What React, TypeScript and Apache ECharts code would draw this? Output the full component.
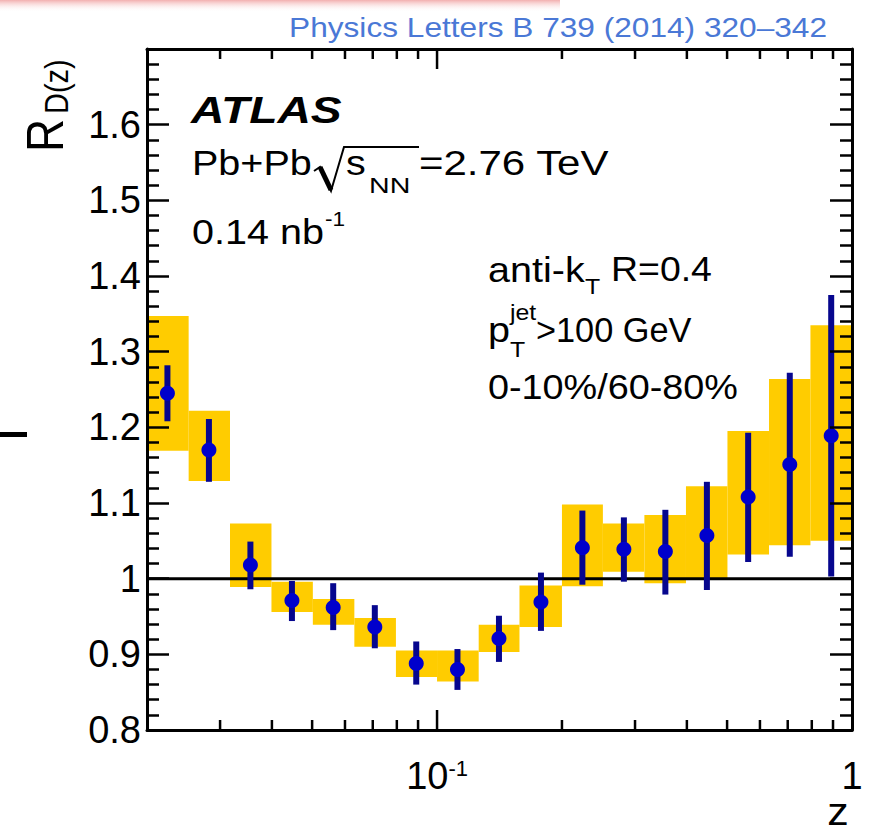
import React, { useEffect, useRef } from 'react';
import * as echarts from 'echarts';

// ---- data ----
const binLow = [0.02, 0.0252, 0.0317, 0.0399, 0.0502, 0.0632, 0.0796, 0.1, 0.126, 0.158, 0.2, 0.251, 0.316, 0.398, 0.501, 0.631, 0.794];
const binHigh = [0.0252, 0.0317, 0.0399, 0.0502, 0.0632, 0.0796, 0.1, 0.126, 0.158, 0.2, 0.251, 0.316, 0.398, 0.501, 0.631, 0.794, 1.0];
const zCenters = [0.0224, 0.0282, 0.0355, 0.0447, 0.0562, 0.0708, 0.0891, 0.112, 0.141, 0.178, 0.224, 0.282, 0.355, 0.447, 0.562, 0.708, 0.891];
const rValues = [1.245, 1.170, 1.018, 0.971, 0.962, 0.936, 0.888, 0.880, 0.921, 0.969, 1.041, 1.039, 1.036, 1.057, 1.108, 1.151, 1.189];
const statLow = [1.208, 1.128, 0.986, 0.944, 0.932, 0.908, 0.860, 0.853, 0.890, 0.931, 0.992, 0.996, 0.979, 0.985, 1.022, 1.029, 1.003];
const statHigh = [1.282, 1.211, 1.049, 0.997, 0.994, 0.965, 0.917, 0.907, 0.951, 1.008, 1.090, 1.081, 1.091, 1.128, 1.193, 1.272, 1.375];
const sysLow = [1.169, 1.129, 0.989, 0.956, 0.939, 0.910, 0.870, 0.864, 0.903, 0.936, 0.990, 1.009, 0.994, 1.000, 1.032, 1.044, 1.050];
const sysHigh = [1.347, 1.222, 1.073, 0.996, 0.973, 0.948, 0.905, 0.905, 0.939, 0.991, 1.098, 1.073, 1.084, 1.122, 1.195, 1.264, 1.335];

const xMajorTicks = [0.1];
const xMinorTicks = [0.03, 0.04, 0.05, 0.06, 0.07, 0.08, 0.09, 0.2, 0.3, 0.4, 0.5, 0.6, 0.7, 0.8, 0.9];
const referenceLine = [[0.02, 1], [1, 1]];

const X_MIN = 0.02;
const X_MAX = 1;
const Y_MIN = 0.8;
const Y_MAX = 1.7;
const Y_STEP = 0.1;

const FONT = "'Liberation Sans', Arial, Helvetica, sans-serif";
const SX = 1.13;

function txt(text: string, x: number, y: number, size: number, extra: any = {}) {
  const { style, ...rest } = extra;
  return {
    type: 'text',
    x,
    y,
    scaleX: SX,
    z: 100,
    ...rest,
    style: {
      text,
      fontSize: size,
      fontFamily: FONT,
      fill: '#000',
      align: 'left',
      verticalAlign: 'middle',
      ...(style || {}),
    },
  };
}

export default function App() {
  const ref = useRef<HTMLDivElement>(null);

  useEffect(() => {
    document.body.style.margin = '0';
    if (!ref.current) return;
    const chart = echarts.init(ref.current, undefined, { renderer: 'svg' });

    const lineStyle = { color: '#000', width: 3 };
    const tickStyle = { color: '#000', width: 2.5 };

    const boxData = binLow.map((lo, i) => [lo, binHigh[i], sysLow[i], sysHigh[i]]);
    const barData = zCenters.map((z, i) => [z, statLow[i], statHigh[i]]);
    const pointData = zCenters.map((z, i) => [z, rValues[i]]);
    const tickData = [
      ...xMajorTicks.map((v) => [v, Y_MIN, 1]),
      ...xMinorTicks.map((v) => [v, Y_MIN, 0]),
    ];

    const near = (a: number, b: number) => Math.abs(a - b) < 1e-6;

    const option: any = {
      animation: false,
      backgroundColor: '#fff',
      grid: { left: 147, right: 20, top: 49, bottom: 104, containLabel: false },
      xAxis: [
        {
          type: 'log',
          logBase: 10,
          min: X_MIN,
          max: X_MAX,
          position: 'bottom',
          z: 10,
          axisLine: { show: true, onZero: false, lineStyle },
          axisTick: { show: false },
          splitLine: { show: false },
          minorTick: { show: false },
          axisLabel: {
            show: true,
            margin: 27,
            showMinLabel: true,
            showMaxLabel: true,
            formatter: (v: number) => {
              if (near(v, 0.1)) return '{b|10}{s|-1}';
              if (near(v, 1)) return '{b|1}';
              return '';
            },
            rich: {
              b: { fontSize: 38, fontFamily: FONT, color: '#000' },
              s: { fontSize: 22, fontFamily: FONT, color: '#000', verticalAlign: 'top' },
            },
          },
        },
        {
          type: 'log',
          logBase: 10,
          min: X_MIN,
          max: X_MAX,
          position: 'top',
          z: 10,
          axisLine: { show: true, onZero: false, lineStyle },
          axisTick: { show: false },
          splitLine: { show: false },
          axisLabel: { show: false },
        },
      ],
      yAxis: [
        {
          type: 'value',
          min: Y_MIN,
          max: Y_MAX,
          interval: Y_STEP,
          position: 'left',
          z: 10,
          axisLine: { show: true, onZero: false, lineStyle },
          axisTick: { show: true, inside: true, length: 22, lineStyle: tickStyle },
          minorTick: { show: true, splitNumber: 5, length: 12, lineStyle: tickStyle },
          splitLine: { show: false },
          minorSplitLine: { show: false },
          axisLabel: {
            fontSize: 38,
            fontFamily: FONT,
            color: '#000',
            margin: 6,
            formatter: (v: number) => (near(v, Y_MAX) ? '' : String(parseFloat(v.toFixed(2)))),
          },
        },
        {
          type: 'value',
          min: Y_MIN,
          max: Y_MAX,
          interval: Y_STEP,
          position: 'right',
          z: 10,
          axisLine: { show: true, onZero: false, lineStyle },
          axisTick: { show: true, inside: true, length: 22, lineStyle: tickStyle },
          minorTick: { show: true, splitNumber: 5, length: 12, lineStyle: tickStyle },
          splitLine: { show: false },
          minorSplitLine: { show: false },
          axisLabel: { show: false },
        },
      ],
      series: [
        {
          type: 'custom',
          name: 'sys',
          xAxisIndex: 0,
          yAxisIndex: 0,
          z: 1,
          encode: { x: [0, 1], y: [2, 3] },
          data: boxData,
          renderItem: (params: any, api: any) => {
            const p1 = api.coord([api.value(0), api.value(3)]);
            const p2 = api.coord([api.value(1), api.value(2)]);
            return {
              type: 'rect',
              shape: { x: p1[0], y: p1[1], width: p2[0] - p1[0], height: p2[1] - p1[1] },
              style: { fill: '#FFCC00' },
            };
          },
        },
        {
          type: 'line',
          name: 'unity',
          xAxisIndex: 0,
          yAxisIndex: 0,
          z: 2,
          data: referenceLine,
          symbol: 'none',
          showSymbol: false,
          lineStyle: { color: '#000', width: 3 },
        },
        {
          type: 'custom',
          name: 'stat',
          xAxisIndex: 0,
          yAxisIndex: 0,
          z: 3,
          encode: { x: 0, y: [1, 2] },
          data: barData,
          renderItem: (params: any, api: any) => {
            const top = api.coord([api.value(0), api.value(2)]);
            const bot = api.coord([api.value(0), api.value(1)]);
            return {
              type: 'rect',
              shape: { x: top[0] - 3, y: top[1], width: 6, height: bot[1] - top[1] },
              style: { fill: '#06068E' },
            };
          },
        },
        {
          type: 'scatter',
          name: 'R',
          xAxisIndex: 0,
          yAxisIndex: 0,
          z: 4,
          data: pointData,
          symbol: 'circle',
          symbolSize: 15,
          itemStyle: { color: '#0000CC', opacity: 1 },
        },
        {
          type: 'custom',
          name: 'xticks',
          xAxisIndex: 0,
          yAxisIndex: 0,
          z: 10,
          encode: { x: 0, y: 1 },
          data: tickData,
          renderItem: (params: any, api: any) => {
            const v = api.value(0);
            const len = api.value(2) === 1 ? 20 : 10;
            const b = api.coord([v, Y_MIN]);
            const t = api.coord([v, Y_MAX]);
            return {
              type: 'group',
              children: [
                { type: 'line', shape: { x1: b[0], y1: b[1], x2: b[0], y2: b[1] - len }, style: { stroke: '#000', lineWidth: 2.5 } },
                { type: 'line', shape: { x1: t[0], y1: t[1], x2: t[0], y2: t[1] + len }, style: { stroke: '#000', lineWidth: 2.5 } },
              ],
            };
          },
        },
      ],
      graphic: [
        {
          type: 'rect',
          shape: { x: 0, y: 0, width: 560, height: 12 },
          style: {
            fill: {
              type: 'linear', x: 0, y: 0, x2: 0, y2: 1,
              colorStops: [
                { offset: 0, color: 'rgba(232,110,110,0.55)' },
                { offset: 1, color: 'rgba(255,255,255,0)' },
              ],
            },
          },
          z: 100,
        },
        { type: 'rect', shape: { x: 0, y: 432, width: 27, height: 5 }, style: { fill: '#000' }, z: 100 },
        txt('Physics Letters B 739 (2014) 320\u2013342', 827, 27, 28, { style: { align: 'right', fill: '#4A78D6' } }),
        txt('ATLAS', 191, 110, 37, { scaleX: 1.25, style: { fontWeight: 'bold', fontStyle: 'italic' } }),
        txt('Pb+Pb', 192, 163, 35),
        {
          type: 'polyline',
          shape: { points: [[314, 171], [320, 167], [331, 191], [344, 147], [419, 147]] },
          style: { stroke: '#000', lineWidth: 2, fill: 'none' },
          z: 100,
        },
        { type: 'line', shape: { x1: 320, y1: 167, x2: 331, y2: 190 }, style: { stroke: '#000', lineWidth: 5 }, z: 100 },
        txt('s', 346, 163, 35),
        txt('NN', 369, 185, 22, { scaleX: 1.3 }),
        txt('=2.76 TeV', 419, 163, 35, { scaleX: 1.2 }),
        txt('0.14 nb', 192, 232, 35),
        txt('-1', 325, 219, 20),
        txt('anti-k', 488, 269.4, 35),
        txt('T', 585, 287, 22),
        txt('R=0.4', 611, 269.4, 35, { scaleX: 1.07 }),
        txt('p', 488, 329.4, 35),
        txt('jet', 510, 313, 22),
        txt('T', 510, 350, 22),
        txt('>100 GeV', 536, 329.4, 35, { scaleX: 0.98 }),
        txt('0-10%/60-80%', 488, 387.4, 35, { scaleX: 1.08 }),
        txt('R', 45, 152, 46, { rotation: Math.PI / 2, scaleX: 1, scaleY: SX }),
        txt('D(z)', 57, 114, 29, { rotation: Math.PI / 2, scaleX: 1, scaleY: SX }),
        txt('z', 838, 812, 38, { style: { align: 'center' } }),
      ],
    };

    chart.setOption(option);
    return () => chart.dispose();
  }, []);

  return <div ref={ref} style={{ width: 872, height: 834 }} />;
}
